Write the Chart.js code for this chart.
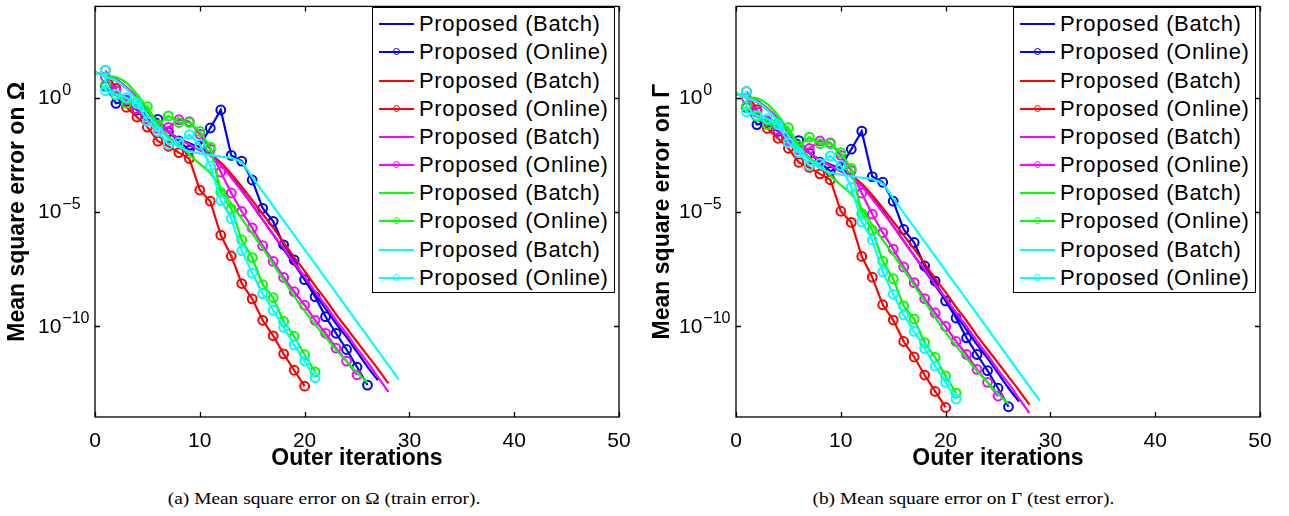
<!DOCTYPE html>
<html><head><meta charset="utf-8">
<script src="https://cdn.jsdelivr.net/npm/chart.js@4.4.1/dist/chart.umd.min.js"></script>
<style>
html,body{margin:0;padding:0;background:#fff}
body{width:1289px;height:516px;overflow:hidden;position:relative;font-family:"Liberation Sans",Arial,sans-serif}
canvas{position:absolute;top:0}
#ca{left:0}
#cb{left:645px}
.legend{position:absolute;top:7px;width:241px;height:284px;border:1px solid #000;background:#fff}
.row{position:absolute;left:0;width:241px;height:28px}
.ln{position:absolute;left:6px;width:35px;top:13px;height:2px}
.mk{position:absolute;left:20px;top:10px;width:5px;height:5px;border:1.6px solid;border-radius:50%;background:transparent}
.tx{position:absolute;left:46px;top:0;line-height:28px;font-size:22px;letter-spacing:0.65px;color:#000;white-space:nowrap}
.cap{position:absolute;top:489px;font-family:"Liberation Serif","Times New Roman",serif;font-size:17px;color:#000;white-space:nowrap;transform-origin:center;transform:scaleX(1.14)}
</style></head><body>
<canvas id="ca" width="645" height="472"></canvas>
<canvas id="cb" width="644" height="472"></canvas>
<div class="legend" id="lga" style="left:372px"></div>
<div class="legend" id="lgb" style="left:1013px"></div>
<div class="cap" id="capa">(a) Mean square error on Ω (train error).</div>
<div class="cap" id="capb">(b) Mean square error on Γ (test error).</div>
<script>
// ---------- data (log10 of mean square error) ----------
const seriesColors = ['#0000ff','#ff0000','#ff00ff','#00ff00','#00ffff'];
const seriesLabels = ['Proposed (Batch)','Proposed (Online)'];
const xTicks = [0,10,20,30,40,50];
const yTicks = [1e-10,1e-5,1];
const yTickBase = '10';
const yTickExponents = ['−10','−5','0'];

// batch curves start at iteration 0, online curves at iteration 1
const cyanOnlineIters = [1,1,2,3,4,5,6,7,8,9,10,11,12,13,14,15,16,17,18,19,20,21];

// (a) train error, exponents
const trainBlueBatch = [1.1,0.95,0.75,0.4,-0.05,-0.6,-1.1,-1.5,-1.8,-2.0,-2.2,-2.45,-2.9,-3.45,-4.05,-4.7,-5.35,-6.0,-6.65,-7.3,-7.95,-8.6,-9.25,-9.9,-10.5,-11.15,-11.8,-12.39];
const trainBlueOnline = [0.5,-0.25,-0.15,-0.55,-0.8,-0.95,-1.5,-1.9,-2.3,-2.1,-1.33,-0.54,-2.53,-2.78,-3.61,-4.85,-5.42,-6.45,-7.11,-7.98,-8.73,-9.6,-10.33,-11.04,-11.81,-12.6];
const trainRedBatch = [1.1,0.95,0.8,0.45,0.0,-0.55,-1.1,-1.5,-1.8,-2.05,-2.3,-2.5,-2.85,-3.35,-3.9,-4.5,-5.1,-5.7,-6.35,-7.0,-7.6,-8.25,-8.85,-9.5,-10.1,-10.7,-11.3,-11.9,-12.53];
const trainRedOnline = [1.2,0.4,-0.42,-0.85,-1.29,-1.91,-2.13,-2.41,-2.67,-4.05,-4.54,-6.03,-6.94,-8.15,-8.82,-9.76,-10.44,-11.23,-11.95,-12.65];
const trainMagentaBatch = [1.1,0.95,0.8,0.45,0.0,-0.55,-1.1,-1.5,-1.8,-2.05,-2.3,-2.55,-2.95,-3.5,-4.1,-4.7,-5.35,-6.0,-6.6,-7.25,-7.85,-8.5,-9.1,-9.75,-10.35,-11.0,-11.6,-12.25,-12.9];
const trainMagentaOnline = [0.9,0.3,-0.1,-0.5,-0.95,-1.35,-1.3,-0.97,-1.05,-1.6,-2.27,-3.26,-4.18,-4.99,-5.71,-6.49,-7.18,-7.88,-8.51,-9.1,-9.76,-10.33,-10.98,-11.55,-12.15];
const trainGreenBatch = [1.13,0.95,0.9,0.65,0.15,-0.5,-1.2,-1.7,-2.05,-2.5,-2.9,-3.3,-3.95,-4.65,-5.3,-5.95,-6.6,-7.3,-8.0,-8.7,-9.35,-9.95,-10.5,-11.05,-11.55,-12.05,-12.5];
const trainGreenOnline = [0.55,0.11,-0.25,-0.17,-0.39,-1.19,-0.8,-1.09,-1.09,-1.48,-2.17,-4.15,-4.87,-6.24,-7.01,-8.2,-8.77,-9.81,-10.46,-11.27,-12.02];
const trainCyanBatch = [1.1,0.9,0.75,0.4,-0.1,-0.75,-1.3,-1.8,-2.15,-2.35,-2.45,-2.52,-2.58,-2.65,-2.85,-3.48,-4.12,-4.75,-5.39,-6.02,-6.66,-7.29,-7.92,-8.56,-9.19,-9.83,-10.46,-11.1,-11.73,-12.36];
const trainCyanOnline = [1.2,0.3,0.15,0.0,-0.25,-1.04,-1.48,-2.05,-1.95,-1.62,-2.05,-2.99,-4.51,-5.31,-6.71,-7.69,-8.6,-9.32,-10.07,-10.84,-11.55,-12.28];

// (b) test error, exponents
const testBlueBatch = [0.17,0.02,-0.18,-0.53,-0.98,-1.53,-2.03,-2.43,-2.73,-2.93,-3.13,-3.38,-3.83,-4.38,-4.98,-5.63,-6.28,-6.93,-7.58,-8.23,-8.88,-9.53,-10.18,-10.83,-11.43,-12.08,-12.73,-13.32];
const testBlueOnline = [-0.43,-1.18,-1.08,-1.48,-1.73,-1.88,-2.43,-2.83,-3.23,-3.03,-2.26,-1.47,-3.46,-3.71,-4.54,-5.78,-6.35,-7.38,-8.04,-8.91,-9.66,-10.53,-11.26,-11.97,-12.74,-13.55];
const testRedBatch = [0.17,0.02,-0.13,-0.48,-0.93,-1.48,-2.03,-2.43,-2.73,-2.98,-3.23,-3.43,-3.78,-4.28,-4.83,-5.43,-6.03,-6.63,-7.28,-7.93,-8.53,-9.18,-9.78,-10.43,-11.03,-11.63,-12.23,-12.83,-13.46];
const testRedOnline = [0.27,-0.53,-1.35,-1.78,-2.22,-2.84,-3.06,-3.34,-3.6,-4.98,-5.47,-6.96,-7.87,-9.08,-9.75,-10.69,-11.37,-12.16,-12.88,-13.58];
const testMagentaBatch = [0.17,0.02,-0.13,-0.48,-0.93,-1.48,-2.03,-2.43,-2.73,-2.98,-3.23,-3.48,-3.88,-4.43,-5.03,-5.63,-6.28,-6.93,-7.53,-8.18,-8.78,-9.43,-10.03,-10.68,-11.28,-11.93,-12.53,-13.18,-13.83];
const testMagentaOnline = [-0.03,-0.63,-1.03,-1.43,-1.88,-2.28,-2.23,-1.9,-1.98,-2.53,-3.2,-4.19,-5.11,-5.92,-6.64,-7.42,-8.11,-8.81,-9.44,-10.03,-10.69,-11.26,-11.91,-12.48,-13.08];
const testGreenBatch = [0.2,0.02,-0.03,-0.28,-0.78,-1.43,-2.13,-2.63,-2.98,-3.43,-3.83,-4.23,-4.88,-5.58,-6.23,-6.88,-7.53,-8.23,-8.93,-9.63,-10.28,-10.88,-11.43,-11.98,-12.48,-12.98,-13.43];
const testGreenOnline = [-0.38,-0.82,-1.18,-1.1,-1.32,-2.12,-1.73,-2.02,-2.02,-2.41,-3.1,-5.08,-5.8,-7.17,-7.94,-9.13,-9.7,-10.74,-11.39,-12.2,-12.95];
const testCyanBatch = [0.17,-0.03,-0.18,-0.53,-1.03,-1.68,-2.23,-2.73,-3.08,-3.28,-3.38,-3.45,-3.51,-3.58,-3.78,-4.41,-5.05,-5.68,-6.32,-6.95,-7.59,-8.22,-8.85,-9.49,-10.12,-10.76,-11.39,-12.03,-12.66,-13.29];
const testCyanOnline = [0.27,-0.63,-0.78,-0.93,-1.18,-1.97,-2.41,-2.98,-2.88,-2.55,-2.98,-3.92,-5.44,-6.24,-7.64,-8.62,-9.53,-10.25,-11.0,-11.77,-12.48,-13.21];

// ---------- building ----------
const FONT = '"Liberation Sans", Arial, sans-serif';
function batchPts(arr){ return arr.map((e,i)=>({x:i, y:Math.pow(10,e)})); }
function onlinePts(arr, iters){ return arr.map((e,i)=>({x: iters ? iters[i] : i+1, y:Math.pow(10,e)})); }

function makeDatasets(batches, onlines, cyanIters){
  const ds = [];
  for (let k=0;k<5;k++){
    const c = seriesColors[k];
    ds.push({label:seriesLabels[0], data:batchPts(batches[k]), borderColor:c, backgroundColor:c,
      borderWidth:2.2, pointRadius:0, cubicInterpolationMode:'monotone', fill:false});
    ds.push({label:seriesLabels[1], data:onlinePts(onlines[k], k===4?cyanIters:null), borderColor:c,
      borderWidth:2.2, tension:0, pointRadius:4.4, pointHoverRadius:4.4, pointStyle:'circle',
      pointBorderWidth:2, pointBorderColor:c, pointBackgroundColor:'rgba(0,0,0,0)', fill:false});
  }
  ds.forEach((d,i)=>{ d.order = -i; });
  return ds;
}

// axes box, inward ticks on all four sides, and the power-of-ten tick labels
const frame = {
  id:'frame',
  afterDatasetsDraw(chart){
    const {ctx, chartArea:{left,right,top,bottom}, scales:{x,y}} = chart;
    ctx.save();
    ctx.strokeStyle='#000'; ctx.lineWidth=1.3;
    ctx.strokeRect(left,top,right-left,bottom-top);
    const tl=5;
    ctx.beginPath();
    x.ticks.forEach(t=>{const px=Math.round(x.getPixelForValue(t.value))+0.5;
      ctx.moveTo(px,bottom); ctx.lineTo(px,bottom-tl); ctx.moveTo(px,top); ctx.lineTo(px,top+tl);});
    y.ticks.forEach(t=>{const py=Math.round(y.getPixelForValue(t.value))+0.5;
      ctx.moveTo(left,py); ctx.lineTo(left+tl,py); ctx.moveTo(right,py); ctx.lineTo(right-tl,py);});
    ctx.stroke();
    // y tick labels: base "10" with a raised exponent
    ctx.fillStyle='#000'; ctx.textAlign='left'; ctx.textBaseline='middle';
    y.ticks.forEach((t,i)=>{
      const py = y.getPixelForValue(t.value);
      const lx = left - 57;
      ctx.font = '21px ' + FONT;
      ctx.fillText(yTickBase, lx, py + 1);
      const w = ctx.measureText(yTickBase).width;
      ctx.font = '16px ' + FONT;
      ctx.fillText(yTickExponents[i], lx + w + 1, py - 7);
    });
    ctx.restore();
  }
};

function makeChart(id, datasets, yTitle, yWidth, padRight){
  return new Chart(document.getElementById(id), {
    type:'line',
    data:{datasets},
    plugins:[frame],
    options:{
      responsive:false, animation:false, devicePixelRatio:1,
      layout:{padding:{left:0,right:padRight,top:2,bottom:0}},
      plugins:{legend:{display:false}, tooltip:{enabled:false}},
      scales:{
        x:{type:'linear', min:0, max:50,
          afterBuildTicks:s=>{ s.ticks = xTicks.map(v=>({value:v})); },
          afterFit:s=>{ s.height = 55; },
          grid:{display:false, drawTicks:false}, border:{display:false},
          ticks:{color:'#000', font:{family:FONT, size:21}, padding:12, maxRotation:0, autoSkip:false},
          title:{display:true, text:'Outer iterations', color:'#000', font:{family:FONT, size:23, weight:'bold'}, padding:{top:0,bottom:0}}
        },
        y:{type:'logarithmic', min:1e-14, max:1e4,
          afterBuildTicks:s=>{ s.ticks = yTicks.map(v=>({value:v})); },
          afterFit:s=>{ s.width = yWidth; },
          grid:{display:false, drawTicks:false}, border:{display:false},
          ticks:{display:false},
          title:{display:true, text:yTitle, color:'#000', font:{family:FONT, size:23, weight:'bold'}, padding:{top:4,bottom:0}}
        }
      }
    }
  });
}

makeChart('ca', makeDatasets(
  [trainBlueBatch,trainRedBatch,trainMagentaBatch,trainGreenBatch,trainCyanBatch],
  [trainBlueOnline,trainRedOnline,trainMagentaOnline,trainGreenOnline,trainCyanOnline], cyanOnlineIters),
  'Mean square error on Ω', 95, 26);
makeChart('cb', makeDatasets(
  [testBlueBatch,testRedBatch,testMagentaBatch,testGreenBatch,testCyanBatch],
  [testBlueOnline,testRedOnline,testMagentaOnline,testGreenOnline,testCyanOnline], cyanOnlineIters),
  'Mean square error on Γ', 91, 29);

// ---------- legends ----------
function buildLegend(id){
  const el = document.getElementById(id);
  for (let i=0;i<10;i++){
    const c = seriesColors[Math.floor(i/2)];
    const row = document.createElement('div');
    row.className='row'; row.style.top = (2.3 + 28.15*i) + 'px';
    let html = '<div class="ln" style="background:'+c+'"></div>';
    if (i%2===1) html += '<div class="mk" style="border-color:'+c+'"></div>';
    html += '<div class="tx">'+seriesLabels[i%2]+'</div>';
    row.innerHTML = html;
    el.appendChild(row);
  }
}
buildLegend('lga'); buildLegend('lgb');

// captions centred under each panel
function centre(id, cx){ const el=document.getElementById(id); el.style.left=(cx - el.offsetWidth/2)+'px'; }
centre('capa', 324); centre('capb', 963);
</script>
</body></html>
